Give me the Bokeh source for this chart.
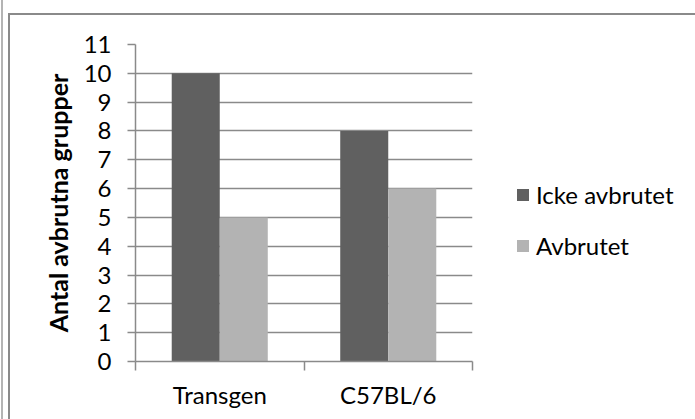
from bokeh.plotting import figure
from bokeh.models import Range1d, FixedTicker, Legend, LegendItem, ColumnDataSource
from bokeh.transform import dodge
from bokeh.embed import file_html
from bokeh.resources import INLINE

# Data
categories = ["Transgen", "C57BL/6"]
series_names = ["Icke avbrutet", "Avbrutet"]
icke_avbrutet = [10, 8]
avbrutet = [5, 6]
y_ticks = list(range(0, 12))

colors = ["#606060", "#b3b3b3"]
FONT = "Lato"
axis_color = "#8a8a8a"

centers = [i + 0.5 for i in range(len(categories))]
boundaries = list(range(len(categories) + 1))
source = ColumnDataSource(dict(x=centers, icke=icke_avbrutet, avb=avbrutet))

p = figure(frame_width=337, frame_height=317, output_backend="svg", toolbar_location=None,
           x_range=Range1d(0, len(categories)), y_range=Range1d(0, 11),
           min_border_left=135, min_border_right=223, min_border_top=44,
           min_border_bottom=58)
p.outline_line_color = None
p.background_fill_color = "white"
p.border_fill_alpha = 0

# chart area border lines, painted on the page behind the transparent canvas border
p.styles = {
    "background": (
        "linear-gradient(#8a8a8a, #8a8a8a) 8px 13px / 2px 100% no-repeat, "
        "linear-gradient(#8a8a8a, #8a8a8a) 8px 13px / 100% 2px no-repeat, "
        "linear-gradient(#b4b4b4, #b4b4b4) 1px 0px / 2px 100% no-repeat, "
        "white"
    )
}

bar_w = 0.285
r1 = p.vbar(x=dodge("x", -bar_w / 2, range=p.x_range), top="icke", width=bar_w,
            source=source, fill_color=colors[0], line_color=None)
r2 = p.vbar(x=dodge("x", bar_w / 2, range=p.x_range), top="avb", width=bar_w,
            source=source, fill_color=colors[1], line_color=None)

# y axis
p.yaxis.ticker = FixedTicker(ticks=y_ticks)
p.yaxis.axis_line_color = axis_color
p.yaxis.axis_line_width = 1.5
p.yaxis.major_tick_line_color = axis_color
p.yaxis.major_tick_line_width = 1.5
p.yaxis.major_tick_out = 8
p.yaxis.major_tick_in = 0
p.yaxis.minor_tick_line_color = None
p.yaxis.major_label_text_font = FONT
p.yaxis.major_label_text_font_size = "24px"
p.yaxis.major_label_text_color = "black"
p.yaxis.major_label_standoff = 16
p.yaxis.axis_label = "Antal avbrutna grupper"
p.yaxis.axis_label_text_font = FONT
p.yaxis.axis_label_text_font_size = "25px"
p.yaxis.axis_label_text_font_style = "bold"
p.yaxis.axis_label_text_color = "black"
p.yaxis.axis_label_standoff = 8

# x axis: category ticks at the boundaries, names at the centers
p.xaxis.ticker = FixedTicker(ticks=centers, minor_ticks=boundaries)
p.xaxis.major_label_overrides = {c: name for c, name in zip(centers, categories)}
p.xaxis.axis_line_color = axis_color
p.xaxis.axis_line_width = 1.5
p.xaxis.major_tick_line_color = None
p.xaxis.minor_tick_line_color = axis_color
p.xaxis.minor_tick_line_width = 1.5
p.xaxis.minor_tick_out = 9
p.xaxis.minor_tick_in = 0
p.xaxis.major_label_text_font = FONT
p.xaxis.major_label_text_font_size = "24px"
p.xaxis.major_label_text_color = "black"
p.xaxis.major_label_standoff = 9

p.xgrid.grid_line_color = None
p.ygrid.ticker = FixedTicker(ticks=y_ticks[1:])
p.ygrid.grid_line_color = axis_color
p.ygrid.grid_line_width = 1.5

legend = Legend(items=[LegendItem(label=series_names[0], renderers=[r1]),
                       LegendItem(label=series_names[1], renderers=[r2])],
                location=(43, 101), orientation="vertical")
legend.border_line_color = None
legend.background_fill_alpha = 0
legend.padding = 0
legend.margin = 0
legend.glyph_width = 15
legend.glyph_height = 15
legend.label_standoff = 6
legend.spacing = 22
legend.label_text_font = FONT
legend.label_text_font_size = "24px"
legend.label_text_color = "black"
p.add_layout(legend, "right")

open("out.html", "w").write(file_html(p, INLINE))
